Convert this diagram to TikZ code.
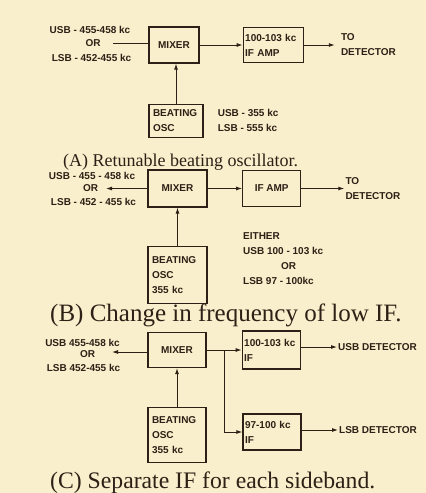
\documentclass[tikz,border=0pt]{standalone}
\usepackage{fontspec}
\setmainfont{Liberation Serif}
\setsansfont{Liberation Sans}
\usetikzlibrary{arrows.meta,positioning}
\definecolor{paper}{RGB}{250,239,204}
\definecolor{ink}{RGB}{45,32,22}
\newcommand{\lbl}{\sffamily\bfseries\fontsize{10}{15}\selectfont}

\begin{document}
\begin{tikzpicture}[
  x=1pt, y=-1pt,
  box/.style={draw=ink, line width=1.2pt, inner xsep=4pt, inner ysep=2pt, font=\lbl, text=ink},
  txt/.style={inner sep=1pt, font=\lbl, text=ink, align=left},
  figcap/.style={anchor=base west, inner sep=0pt, text=ink},
  arrow/.style={-{Latex[length=6pt,width=4pt]}, draw=ink, line width=0.9pt},
  wire/.style={draw=ink, line width=0.9pt}
]
\fill[paper] (0,0) rectangle (426,493);
\useasboundingbox (0,0) rectangle (426,493);

% (A) retunable beating oscillator
\node[box, minimum width=50pt, minimum height=36pt] (mixA) at (174,45) {MIXER};
\node[box, minimum width=60pt, minimum height=35pt, inner xsep=2pt, text width=56pt, align=left, right=43pt of mixA] (ifA) {100-103 kc\\IF AMP};
\node[box, minimum width=54pt, minimum height=33pt, text width=46pt, align=left, below=40pt of mixA, xshift=2pt] (oscA) {BEATING\\OSC};
\node[txt, right=36pt of ifA] (detA) {TO\\DETECTOR};
\node[txt, right=13pt of oscA] (frqA) {USB - 355 kc\\LSB - 555 kc};
\node[txt] (usbA) at (90,30) {USB - 455-458 kc};
\node[txt] (orA) at (93,43) {OR};
\node[txt] (lsbA) at (91.5,58) {LSB - 452-455 kc};
\coordinate (inA) at (113,43);
\draw[wire] (mixA.west |- inA) -- (inA);
\draw[arrow] (mixA) -- (ifA);
\draw[arrow, shorten >=5pt] (ifA) -- (detA);
\draw[arrow] (oscA.north) -- (oscA.north |- mixA.south);
\node[figcap, font=\fontsize{18}{20}\selectfont] (capA) at (63,166) {(A) Retunable beating oscillator.};

% (B) change in frequency of low IF
\node[box, minimum width=59pt, minimum height=37pt] (mixB) at (177.5,188.5) {MIXER};
\node[box, minimum width=58pt, minimum height=36pt, right=34.5pt of mixB] (ifB) {IF AMP};
\node[box, minimum width=59pt, minimum height=57pt, text width=51pt, align=left, below=38pt of mixB] (oscB) {BEATING\\OSC\\355 kc};
\node[txt, right=43pt of ifB] (detB) {TO\\DETECTOR};
\node[txt] (usbB) at (92,176) {USB - 455 - 458 kc};
\node[txt] (orB) at (90.5,188) {OR};
\node[txt] (lsbB) at (93.5,202) {LSB - 452 - 455 kc};
\node[txt, anchor=west] (eitB) at (242,259) {EITHER\\USB 100 - 103 kc\\\hspace*{38pt}OR\\LSB 97 - 100kc};
\coordinate (inB) at (106,188.5);
\draw[arrow] (mixB) -- (inB);
\draw[arrow] (mixB) -- (ifB);
\draw[arrow] (ifB) -- (detB);
\draw[arrow] (oscB) -- (mixB);
\node[figcap, font=\fontsize{25}{28}\selectfont] (capB) at (50,321) {(B) Change in frequency of low IF.};

% (C) separate IF for each sideband
\node[box, minimum width=58pt, minimum height=35pt] (mixC) at (177,350) {MIXER};
\node[box, minimum width=58pt, minimum height=38pt, inner xsep=2pt, text width=54pt, align=left, right=35pt of mixC] (topC) {100-103 kc\\IF};
\node[box, minimum width=58pt, minimum height=36pt, inner xsep=2pt, text width=54pt, align=left] (botC) at (272,432) {97-100 kc\\IF};
\node[box, minimum width=58pt, minimum height=55pt, text width=50pt, align=left, below=39pt of mixC] (oscC) {BEATING\\OSC\\355 kc};
\node[txt, anchor=west] (usbdC) at (337,347) {USB DETECTOR};
\node[txt, anchor=west] (lsbdC) at (338,430) {LSB DETECTOR};
\node[txt] (usbC) at (82.5,343) {USB 455-458 kc};
\node[txt] (orC) at (87.5,354) {OR};
\node[txt] (lsbC) at (83.5,368) {LSB 452-455 kc};
\coordinate (inC) at (112,352);
\coordinate (brC) at (224,350);
\draw[arrow] (mixC.west |- inC) -- (inC);
\draw[arrow] (mixC) -- (topC);
\draw[arrow] (brC) |- (botC);
\draw[arrow] (topC.east |- usbdC) -- (usbdC);
\draw[arrow] (botC.east |- lsbdC) -- (lsbdC);
\draw[arrow] (oscC) -- (mixC);
\node[figcap, font=\fontsize{23.7}{26}\selectfont] (capC) at (50,488) {(C) Separate IF for each sideband.};
\end{tikzpicture}
\end{document}
